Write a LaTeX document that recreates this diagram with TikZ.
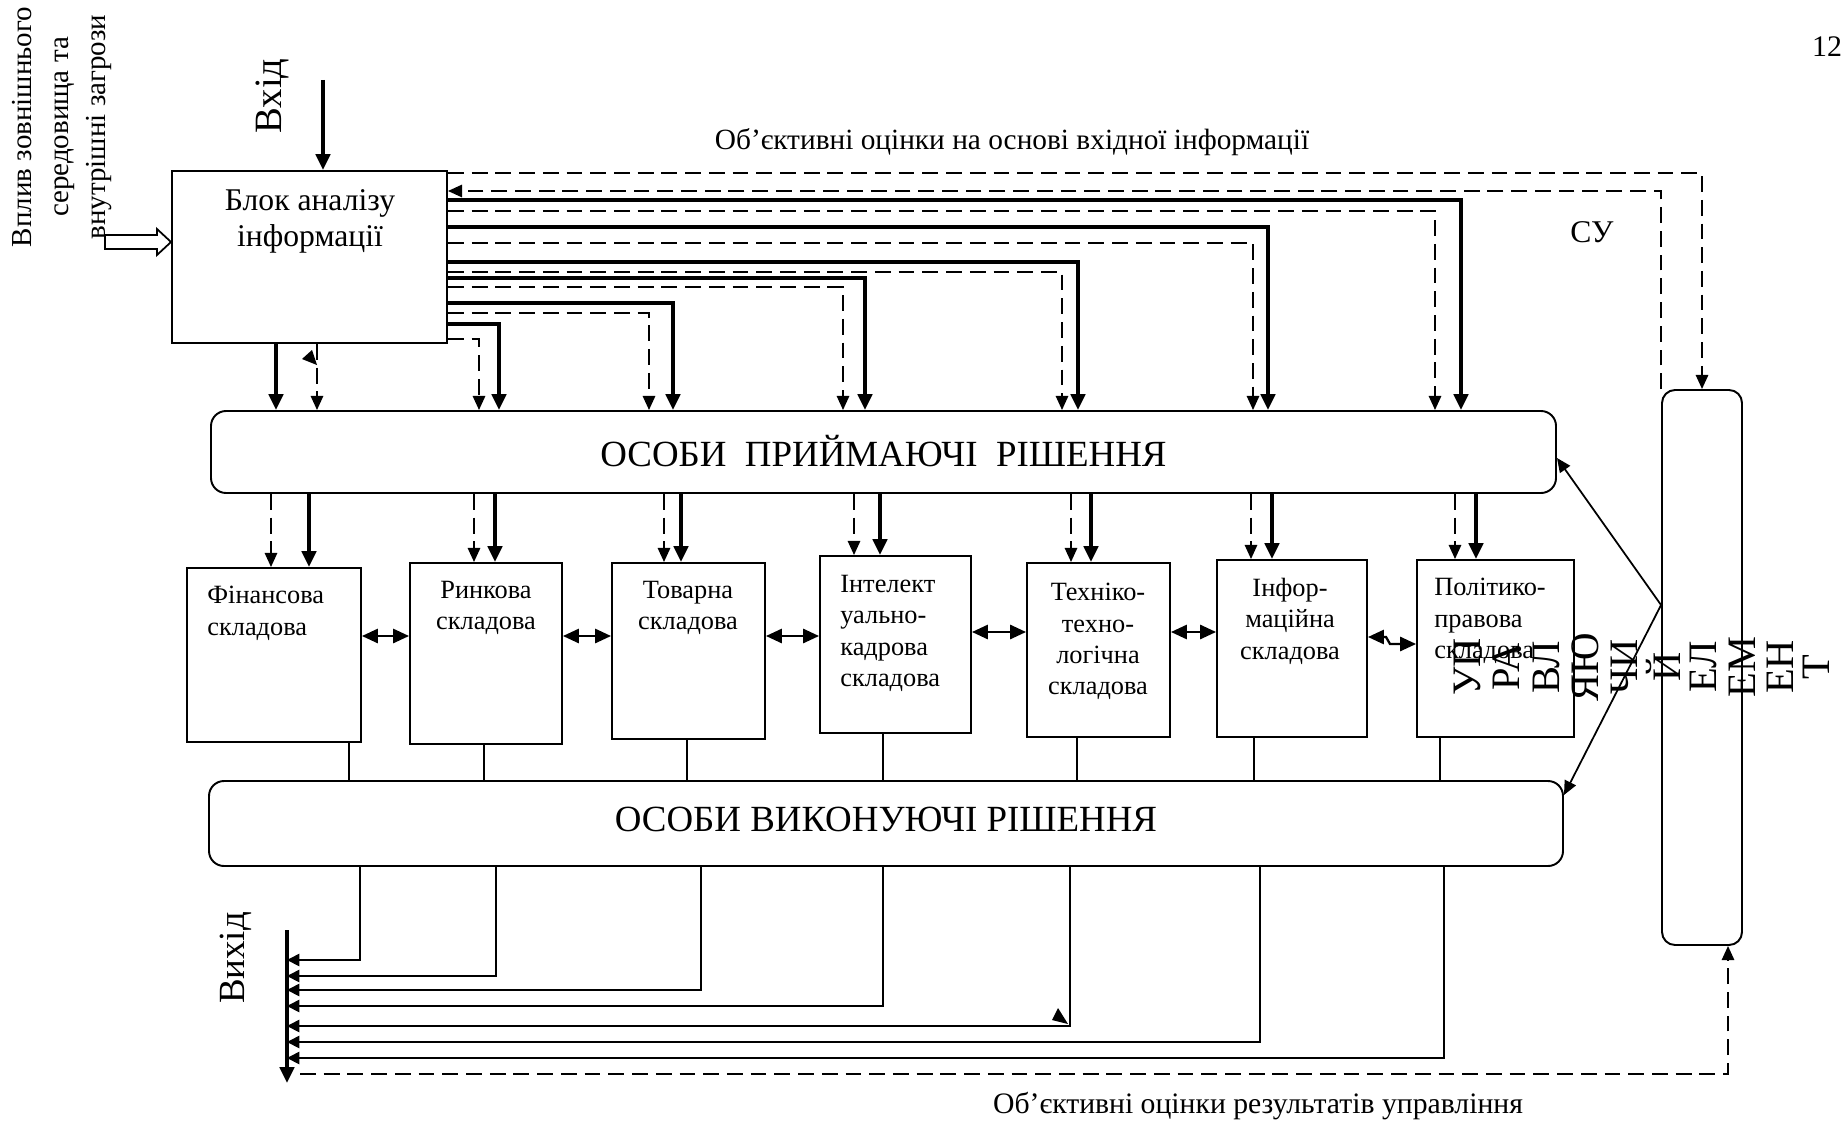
\documentclass[tikz,border=0pt]{standalone}
\usepackage{fontspec}
\setmainfont{Liberation Serif}
\usetikzlibrary{arrows.meta,fit,calc}

\tikzset{
  box/.style={draw,line width=1.1pt,inner sep=0pt},
  rbox/.style={box,rounded corners=0.3cm},
  txt/.style={inner sep=0pt,font=\fontsize{15}{17.8}\selectfont},
  big/.style={inner sep=0pt,font=\fontsize{21}{25}\selectfont},
  thk/.style={line width=2.4pt,-{Triangle[length=9pt,width=8pt]}},
  dsh/.style={line width=1.1pt,dash pattern=on 9pt off 4.5pt,-{Triangle[length=8pt,width=7pt]}},
  thn/.style={line width=1pt,-{Triangle[length=8pt,width=7pt]}},
  sml/.style={line width=1pt,-{Triangle[length=7pt,width=7pt]}},
  both/.style={line width=1.3pt,{Triangle[length=9pt,width=8pt]}-{Triangle[length=9pt,width=8pt]}}
}

\begin{document}
\begin{tikzpicture}[x=0.02cm,y=-0.02cm]
  \useasboundingbox (0,0) rectangle (1841,1125);

  \node[box,fit={(172,171) (447,343)}] (blok) {};
  \node[txt,font=\fontsize{18}{20.5}\selectfont,align=center,anchor=north] (blokt) at (310,189) {Блок аналізу\\інформації};
  \node[rbox,fit={(211,411) (1556,493)}] (opr) {};
  \node[big] (oprt) at ($(opr.center)+(0,-1)$) {ОСОБИ\ \ ПРИЙМАЮЧІ\ \ РІШЕННЯ};
  \node[rbox,fit={(209,781) (1563,866)}] (ovr) {};
  \node[big] (ovrt) at ($(ovr.center)+(0,-4)$) {ОСОБИ ВИКОНУЮЧІ РІШЕННЯ};
  \node[box,rounded corners=0.26cm,fit={(1662,390) (1742,945)}] (ur) {};

  \foreach \n/\xa/\ya/\xb/\yb in {c1/187/568/361/742, c2/410/563/562/744, c3/612/563/765/739,
    c4/820/556/971/733, c5/1027/563/1170/737, c6/1217/560/1367/737, c7/1417/560/1574/737}
    \node[box,fit={(\xa,\ya) (\xb,\yb)}] (\n) {};

  \node[txt,align=left,anchor=north west] (c1t) at (207,586) {Фінансова\\складова};
  \node[txt,align=center,anchor=north] (c2t) at (486,581) {Ринкова\\складова};
  \node[txt,align=center,anchor=north] (c3t) at (688,581) {Товарна\\складова};
  \node[txt,align=left,anchor=north west] (c4t) at (840,575) {Інтелект\\уально-\\кадрова\\складова};
  \node[txt,align=center,anchor=north] (c5t) at (1098,583) {Техніко-\\техно-\\логічна\\складова};
  \node[txt,align=center,anchor=north] (c6t) at (1290,578) {Інфор-\\маційна\\складова};
  \node[txt,align=left,anchor=north west] (c7t) at (1434,578) {Політико-\\правова\\складова};

  \coordinate (vhid) at (323,80);
  \draw[thk] (vhid) -- (vhid |- blok.north);
  \node[big,rotate=90,font=\fontsize{22}{26}\selectfont] (vhidt) at (272,96) {Вхід};
  \node[inner sep=0pt,rotate=90,align=center,font=\fontsize{16.5}{21}\selectfont] (vplyv) at (62,127) {Вплив зовнішнього\\середовища та\\внутрішні загрози};
  \draw[line width=1pt] (105,235) -- (157,235) -- (157,229) -- (blok.west |- 0,242) -- (157,255) -- (157,249) -- (105,249) -- cycle;

  \draw[thk] (276,0 |- blok.south) -- (276,0 |- opr.north);
  \draw[dsh] (317,0 |- blok.south) -- (317,0 |- opr.north);
  \fill (312,350) -- (302,359) -- (317,365) -- cycle;
  \foreach \yd/\xd/\yt/\xt in {339/479/324/499, 313/649/303/673, 287/843/278/865,
    272/1062/262/1078, 243/1253/227/1268, 211/1435/200/1461}{
    \draw[dsh] (blok.east |- 0,\yd) -| (\xd,0 |- opr.north);
    \draw[thk] (blok.east |- 0,\yt) -| (\xt,0 |- opr.north);
  }
  \draw[dsh] (blok.east |- 0,173) -| (1702,0 |- ur.north);
  \draw[dsh] (ur.north west) |- (blok.east |- 0,191);

  \node[inner sep=0pt,font=\fontsize{16.7}{19}\selectfont] (topt) at (1012,142) {Об’єктивні оцінки на основі вхідної інформації};
  \node[inner sep=0pt,font=\fontsize{18}{21}\selectfont] (su) at (1592,232) {СУ};
  \node[inner sep=0pt,font=\fontsize{17}{20}\selectfont] (page) at (1827,47) {12};

  \foreach \c/\xd/\xt in {c1/271/309, c2/474/495, c3/664/681, c4/854/880,
    c5/1071/1091, c6/1251/1272, c7/1455/1476}{
    \draw[dsh] (\xd,0 |- opr.south) -- (\xd,0 |- \c.north);
    \draw[thk] (\xt,0 |- opr.south) -- (\xt,0 |- \c.north);
  }
  \foreach \a/\b/\y in {c1/c2/636, c2/c3/636, c3/c4/636, c4/c5/632, c5/c6/632}
    \draw[both] (\a.east |- 0,\y) -- (\b.west |- 0,\y);
  \draw[both] (c6.east |- 0,637) -- (1386,637) -- (1390,644) -- (c7.west |- 0,644);
  \foreach \c/\x in {c1/349, c2/484, c3/687, c4/883, c5/1077, c6/1254, c7/1440}
    \draw[line width=1pt] (\x,0 |- \c.south) -- (\x,0 |- ovr.north);

  \coordinate (apex) at (ur.west |- 0,605);
  \draw[thn] (apex) -- (opr.east |- 0,458);
  \draw[thn] (apex) -- (ovr.east |- 0,795);
  \foreach \x/\t in {1467/УП, 1506/РА, 1546/ВЛ, 1585/ЯЮ, 1624/ЧИ, 1663/Й, 1703/ЕЛ, 1742/ЕМ, 1780/ЕН, 1816/Т}
    \node[inner sep=0pt,rotate=90,font=\fontsize{23}{26}\selectfont] (u\x) at (\x,667) {\t};

  \coordinate (vyhs) at (287,930);
  \coordinate (vyhe) at (287,1083);
  \draw[thk] (vyhs) -- (vyhe);
  \node[big,rotate=90] (vyht) at (236,958) {Вихід};
  \foreach \x/\y in {360/960, 496/976, 701/990, 883/1006, 1070/1026, 1260/1042, 1444/1058}
    \draw[sml] (\x,0 |- ovr.south) |- (vyhs |- 0,\y);
  \fill (1058,1008) -- (1052,1020) -- (1068,1024) -- cycle;
  \coordinate (fb) at (300,1074);
  \draw[dsh] (fb) -| (1728,0 |- ur.south);
  \node[inner sep=0pt,font=\fontsize{16.9}{20}\selectfont] (bott) at (1258,1106) {Об’єктивні оцінки результатів управління};
\end{tikzpicture}
\end{document}
